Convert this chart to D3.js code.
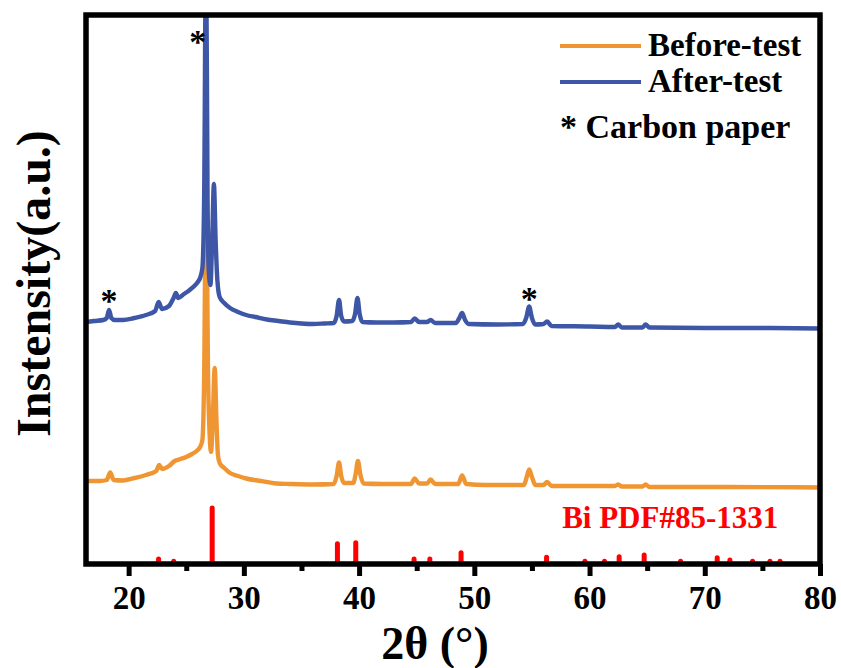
<!DOCTYPE html>
<html>
<head>
<meta charset="utf-8">
<script src="https://cdn.jsdelivr.net/npm/d3@7"></script>
<style>
  body { margin: 0; background: #fff; }
  svg { display: block; font-family: "Liberation Serif", "Times New Roman", serif; font-weight: bold; }
</style>
</head>
<body>
<svg id="chart" width="841" height="668"></svg>
<script>
// XRD patterns: [2theta (deg), intensity (a.u.)], stacked with their own baselines
const beforeTest = [
  [16.3,166],[17.5,166],[18.1,168],[18.4,183],[18.7,168],[19.5,167],[20.5,172],[21.5,178],
  [22.4,186],[22.65,198],[22.9,190],[23.5,196],[24.0,206],[24.5,210],[25.0,214],[25.5,220],
  [25.9,226],[26.2,234],[26.4,248],[26.55,368],[26.72,778],[26.9,368],[27.05,248],[27.15,224],
  [27.3,288],[27.47,392],[27.62,288],[27.75,218],[27.9,202],[28.3,192],[28.8,182],[29.5,176],
  [30.2,171],[31.5,166],[32.8,161],[34,160],[36,159],[37.8,160],[38.05,176],[38.26,203],
  [38.45,176],[38.7,162],[39.5,162],[39.7,180],[39.9,206],[40.1,180],[40.4,161],[42,160],
  [44.5,160],[44.83,171],[45.2,161],[45.9,161],[46.2,169],[46.6,160],[48.6,160],[48.94,177],
  [49.3,160],[51,158],[54.3,158],[54.55,174],[54.76,189],[55.0,174],[55.3,158],[56.0,158],
  [56.32,164],[56.7,156],[62.2,156],[62.49,159],[62.8,155],[64.6,155],[64.86,159],[65.2,154],
  [72,154],[80,153]
];
const afterTest = [
  [16.3,484],[17.0,486],[17.8,488],[18.1,492],[18.3,508],[18.5,492],[18.8,488],[19.5,488],
  [20.5,492],[21.5,498],[22.3,506],[22.6,524],[22.9,510],[23.5,516],[23.9,532],[24.1,542],
  [24.3,532],[24.8,540],[25.3,548],[25.7,556],[26.0,564],[26.2,572],[26.4,592],[26.55,728],
  [26.72,1248],[26.85,728],[26.95,588],[27.1,558],[27.25,648],[27.4,760],[27.55,648],[27.7,568],
  [27.9,534],[28.3,522],[28.8,512],[29.5,504],[30.2,498],[31,494],[32,489],[33,486],
  [34,483],[35,481],[36,480],[37,481],[37.8,482],[38.05,496],[38.26,528],[38.45,496],
  [38.7,485],[39.4,486],[39.65,500],[39.86,532],[40.05,500],[40.3,484],[41.5,483],[43,483],
  [44.5,484],[44.83,491],[45.2,484],[45.9,484],[46.2,488],[46.6,482],[48.4,482],[48.7,492],
  [48.94,502],[49.2,488],[49.5,480],[52,479],[54.2,480],[54.5,492],[54.76,515],[55.0,492],
  [55.3,479],[56.0,480],[56.32,485],[56.7,476],[60,475],[62.2,474],[62.49,479],[62.8,473],
  [64.6,473],[64.86,479],[65.2,473],[70,472],[75,472],[80,471]
];

// Bi reference card PDF#85-1331: peak positions and relative intensities (%)
const refPeaks     = [22.60, 23.91, 27.25, 38.12, 39.71, 44.77, 46.14, 48.85, 56.27, 59.6, 61.3, 62.57, 64.74, 67.9, 71.08, 72.18, 74.15, 75.66, 76.53];
const refIntensity = [9, 5, 100, 36, 38, 9, 9, 20, 12, 5, 5, 13, 16, 5, 11, 7, 5, 5, 5];

// Carbon paper reflections marked with an asterisk: [2theta, height of the mark]
const carbonMarks = [[18.3, 534], [26.0, 1052], [54.76, 538]];

const xTicks = [20, 30, 40, 50, 60, 70, 80];
const xMinorTicks = [25, 35, 45, 55, 65, 75];
const seriesNames = ["Before-test", "After-test"];
const seriesColors = ["#EF9633", "#3E56A6"];
const refLabel = "Bi PDF#85-1331";
const refColor = "#FF0000";

const svg = d3.select("#chart");
const W = 841, H = 668;
const m = { left: 86, right: 21, top: 15, bottom: 104 };

const x = d3.scaleLinear().domain([16.3, 80]).range([m.left, W - m.right]);
const y = d3.scaleLinear().domain([0, 1098]).range([H - m.bottom, m.top]);
const yRef = d3.scaleLinear().domain([0, 100]).range([y(0), y(112)]);

const [x0, x1] = x.range();
const [yb, yt] = y.range();

svg.append("defs").append("clipPath").attr("id", "plot-clip")
  .append("rect").attr("x", x0).attr("y", yt).attr("width", x1 - x0).attr("height", yb - yt);

const plot = svg.append("g").attr("clip-path", "url(#plot-clip)");

// reference sticks
plot.append("g").selectAll("rect")
  .data(refPeaks.map((d, i) => [d, refIntensity[i]]))
  .join("rect")
  .attr("x", d => x(d[0]) - 2.5)
  .attr("width", 5)
  .attr("y", d => yRef(d[1]) - 2.5)
  .attr("height", d => y(0) - yRef(d[1]) + 2.5)
  .attr("rx", 2.5)
  .attr("fill", refColor);

// patterns
const line = d3.line().x(d => x(d[0])).y(d => y(d[1])).curve(d3.curveMonotoneX);
[beforeTest, afterTest].forEach((s, i) => {
  plot.append("path")
    .datum(s)
    .attr("d", line)
    .attr("fill", "none")
    .attr("stroke", seriesColors[i])
    .attr("stroke-width", 4.4)
    .attr("stroke-linejoin", "round");
});

// asterisks for carbon paper
svg.append("g").selectAll("text")
  .data(carbonMarks)
  .join("text")
  .attr("x", d => x(d[0]))
  .attr("y", d => y(d[1]) + 15)
  .attr("text-anchor", "middle")
  .attr("font-size", 34)
  .attr("fill", "#000")
  .text("*");

// reference label
svg.append("text")
  .attr("x", x(67.0))
  .attr("y", 528)
  .attr("text-anchor", "middle")
  .attr("font-size", 31)
  .attr("fill", refColor)
  .text(refLabel);

// x axis: major and minor ticks
const axisMajor = d3.axisBottom(x).tickValues(xTicks).tickSize(12).tickPadding(10).tickSizeOuter(0);
const axisMinor = d3.axisBottom(x).tickValues(xMinorTicks).tickSize(7).tickFormat("").tickSizeOuter(0);

const gMinor = svg.append("g").attr("transform", `translate(0,${yb})`).call(axisMinor);
const gMajor = svg.append("g").attr("transform", `translate(0,${yb})`).call(axisMajor);
[gMinor, gMajor].forEach(g => {
  g.select(".domain").remove();
  g.selectAll(".tick line").attr("stroke", "#000").attr("stroke-width", 5);
});
gMajor.selectAll(".tick text")
  .attr("font-family", "Liberation Serif, Times New Roman, serif")
  .attr("font-weight", "bold")
  .attr("font-size", 33)
  .attr("fill", "#000");

// frame
svg.append("rect")
  .attr("x", x0).attr("y", yt)
  .attr("width", x1 - x0).attr("height", yb - yt)
  .attr("fill", "none").attr("stroke", "#000").attr("stroke-width", 5.5);

// axis titles
svg.append("text")
  .attr("x", (x0 + x1) / 2 - 18)
  .attr("y", 659)
  .attr("text-anchor", "middle")
  .attr("font-size", 46)
  .text("2θ (°)");

svg.append("text")
  .attr("transform", `translate(50,${(yt + yb) / 2 - 6}) rotate(-90)`)
  .attr("text-anchor", "middle")
  .attr("font-size", 48)
  .text("Instensity(a.u.)");

// legend
const legend = svg.append("g");
seriesNames.forEach((name, i) => {
  const ly = 46 + i * 36;
  legend.append("line")
    .attr("x1", 560).attr("x2", 641).attr("y1", ly).attr("y2", ly)
    .attr("stroke", seriesColors[i]).attr("stroke-width", 4);
  legend.append("text")
    .attr("x", 648).attr("y", ly + 10)
    .attr("font-size", 33)
    .text(name);
});
legend.append("text")
  .attr("x", 560).attr("y", 138)
  .attr("font-size", 34)
  .text("* Carbon paper");
</script>
</body>
</html>
